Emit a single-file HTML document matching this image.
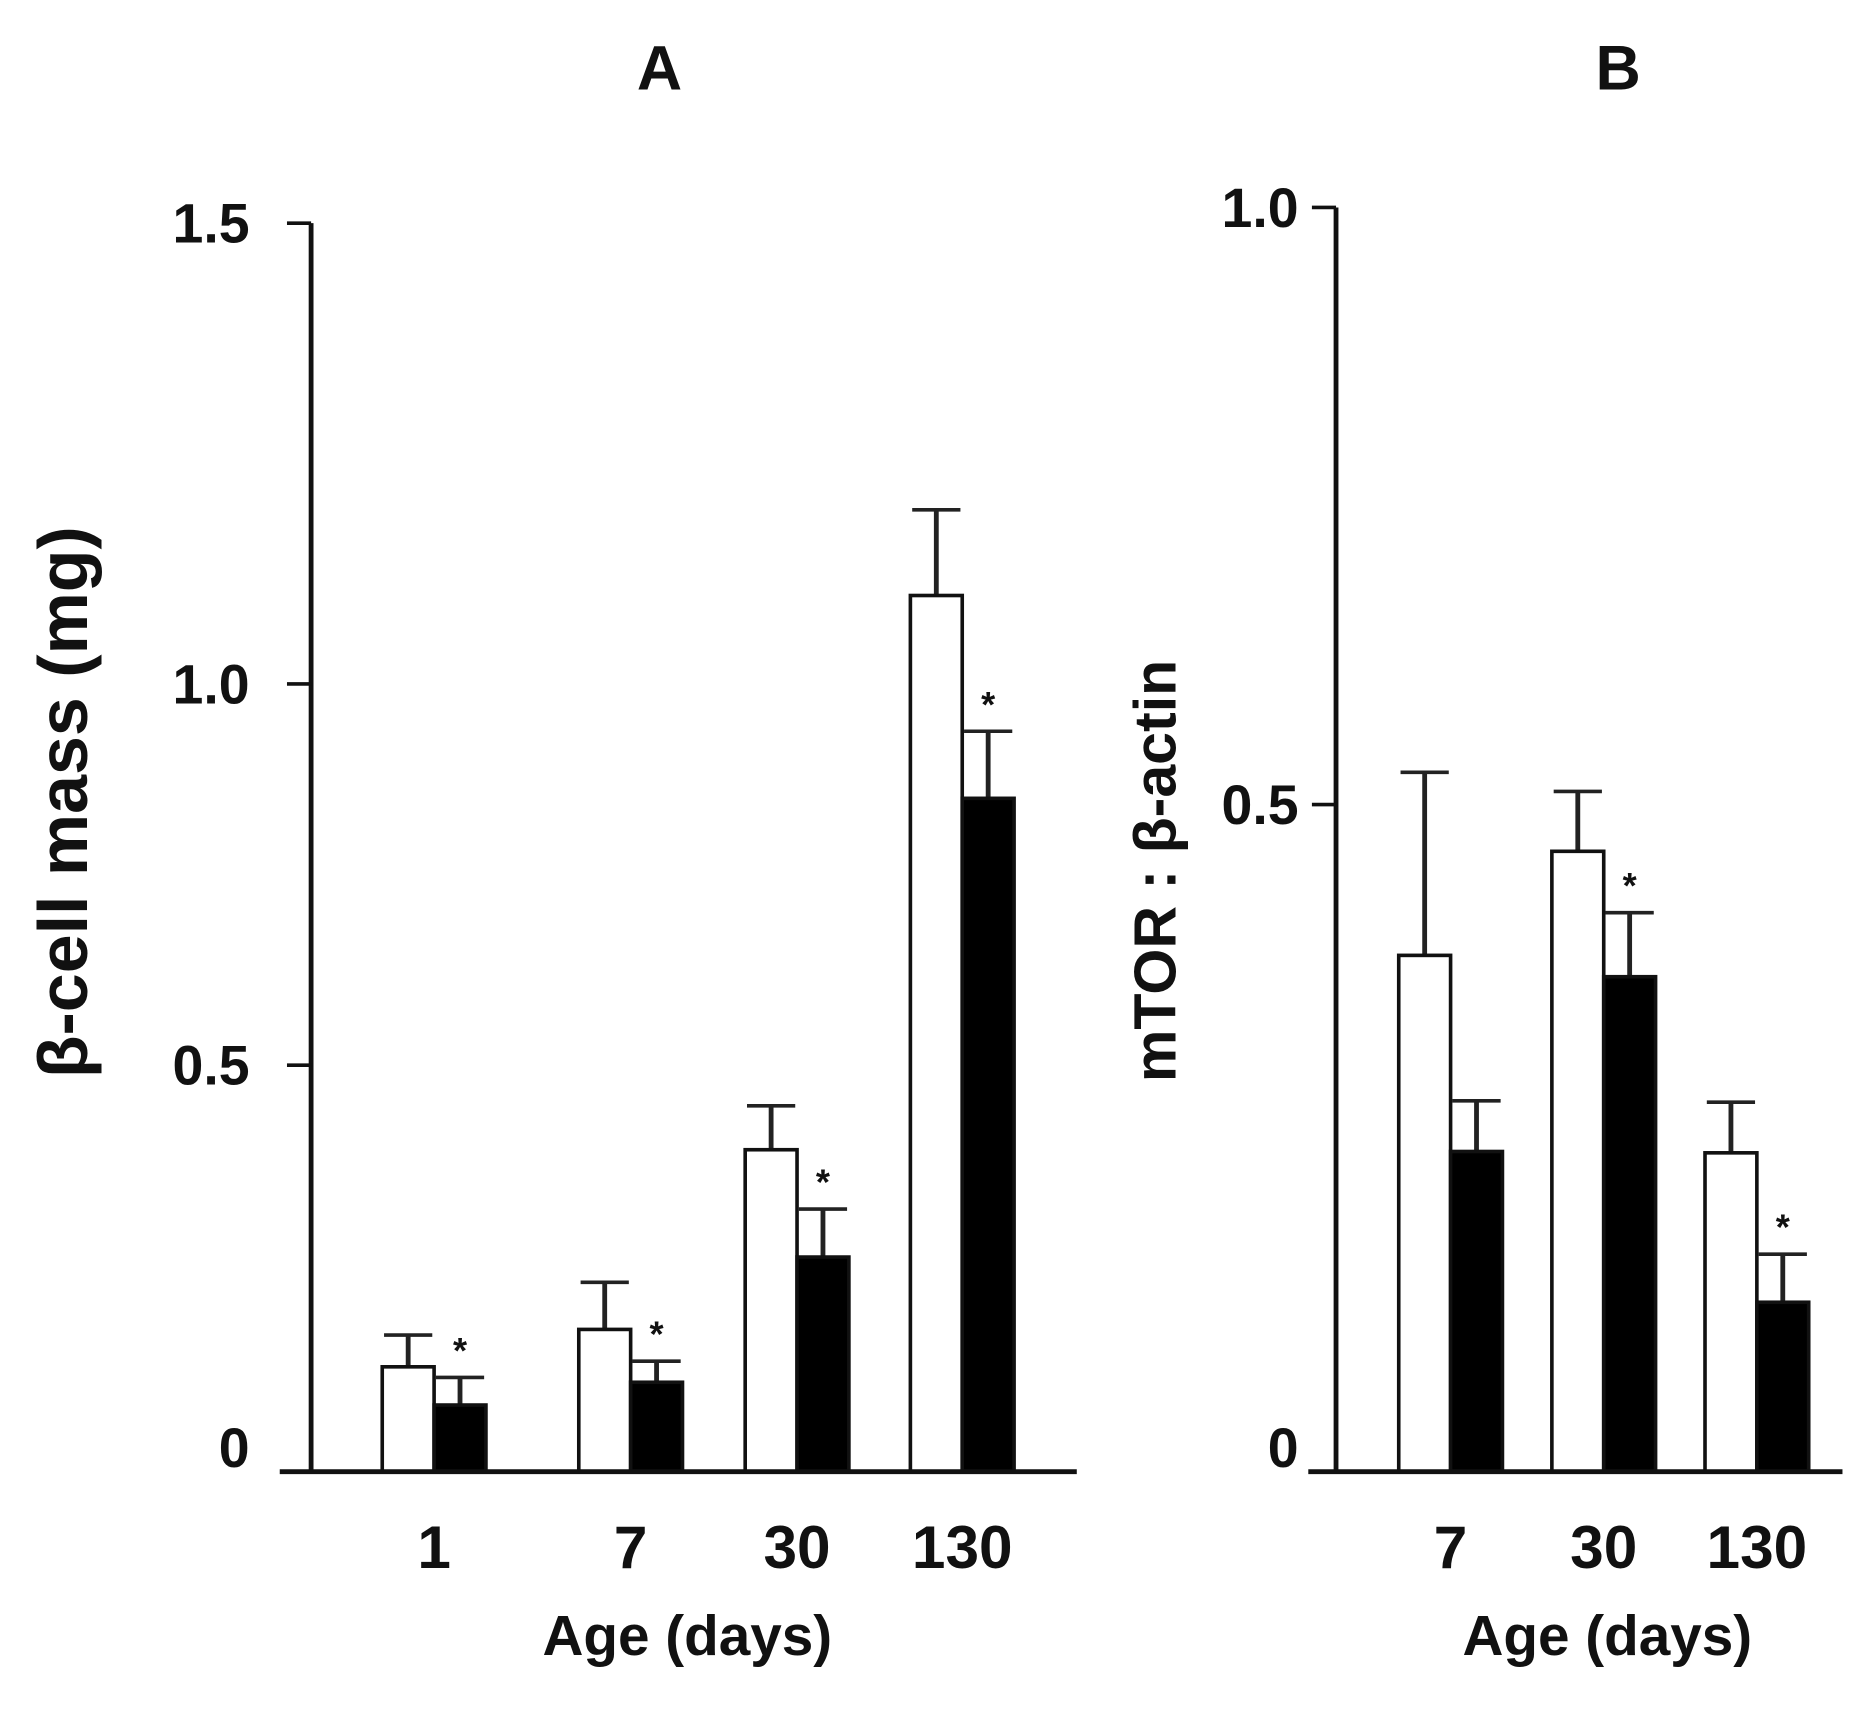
<!DOCTYPE html>
<html><head><meta charset="utf-8"><style>
html,body{margin:0;padding:0;background:#fff}
svg{display:block}
text{font-family:"Liberation Sans",Arial,sans-serif;font-weight:bold;fill:#111}
</style></head><body>
<svg id="chart" width="1869" height="1719" viewBox="0 0 1550 1425" preserveAspectRatio="none" xmlns="http://www.w3.org/2000/svg">
<text x="547" y="74" font-size="52" text-anchor="middle">A</text>
<text x="1342" y="74" font-size="52" text-anchor="middle">B</text>
<text transform="translate(72,665) rotate(-90)" font-size="58" text-anchor="middle">β-cell mass (mg)</text>
<text transform="translate(975,722) rotate(-90)" font-size="49" text-anchor="middle">mTOR : β-actin</text>
<text x="570" y="1372" font-size="47" text-anchor="middle">Age (days)</text>
<text x="1333" y="1372" font-size="47" text-anchor="middle">Age (days)</text>
<g id="plots"></g>
</svg>
<script>
// Panel A data
const catsA = ["1","7","30","130"];
const ctrlA = [0.129,0.175,0.396,1.096];
const ctrlErrA = [0.168,0.233,0.45,1.189];
const trtA = [0.082,0.11,0.264,0.85];
const trtErrA = [0.116,0.136,0.323,0.938];
const sigA = [true,true,true,true];
const ticksA = [0,0.5,1.0,1.5];
const tickLabelsA = ["0","0.5","1.0","1.5"];
// Panel B data
const catsB = ["7","30","130"];
const ctrlB = [0.387,0.465,0.239];
const ctrlErrB = [0.527,0.511,0.277];
const trtB = [0.24,0.371,0.127];
const trtErrB = [0.278,0.419,0.163];
const sigB = [false,true,true];
const ticksB = [0,0.5,1.0];
const tickLabelsB = ["0","0.5","1.0"];

const NS="http://www.w3.org/2000/svg";
const root=document.getElementById('plots');
function mk(tag,attrs,parent){const e=document.createElementNS(NS,tag);for(const k in attrs)e.setAttribute(k,attrs[k]);(parent||root).appendChild(e);return e;}

const layoutA={axisX:258,baseY:1220,xEnd:893,xStart:232,tickPx:[1220,883,567,185],groupX:[317,480,618,755],barW:43,labelX:207};
const layoutB={axisX:1108,baseY:1220,xEnd:1528,xStart:1085,tickPx:[1220,667,172],groupX:[1160,1287,1414],barW:43,labelX:1077};

function makeY(ticks,px){return v=>{for(let i=0;i<ticks.length-1;i++){if(v<=ticks[i+1]||i===ticks.length-2){const t=(v-ticks[i])/(ticks[i+1]-ticks[i]);return px[i]+t*(px[i+1]-px[i]);}}};}

function panel(id,L,cats,ctrl,ctrlErr,trt,trtErr,sig,ticks,tickLabels){
  const y=makeY(ticks,L.tickPx);
  const g=mk('g',{});
  
  
  const ya=mk('line',{x1:L.axisX,y1:y(ticks[ticks.length-1]),x2:L.axisX,y2:L.baseY,stroke:'#111','stroke-width':4},g);
  
  
  ticks.forEach((t,i)=>{
    const ty=y(t);
    if(i>0){const tk=mk('line',{x1:L.axisX-20,y1:ty,x2:L.axisX,y2:ty,stroke:'#111','stroke-width':3},g);
      
      }
    const lab=mk('text',{x:L.labelX,y:(i===0?ty-4:ty+16),'font-size':46,'text-anchor':'end'},g);
    lab.textContent=tickLabels[i];
    
    
  });
  cats.forEach((c,i)=>{
    const x0=L.groupX[i],w=L.barW;
    const items=[[ctrl[i],ctrlErr[i],'#fff',x0,'control'],[trt[i],trtErr[i],'#000',x0+w,'treated']];
    items.forEach(([v,e,fill,bx,nm])=>{
      const top=y(v),et=y(e),cx=bx+w/2;
      const el=mk('line',{x1:cx,y1:top,x2:cx,y2:et,stroke:'#222','stroke-width':4},g);
      
      
      const cap=mk('line',{x1:cx-20,y1:et,x2:cx+20,y2:et,stroke:'#222','stroke-width':3},g);
      
      
      const r=mk('rect',{x:bx,y:top,width:w,height:L.baseY-top,fill:fill,stroke:'#111','stroke-width':3},g);
      
      
    });
    if(sig[i]){
      const s=mk('text',{x:x0+w*1.5,y:y(trtErr[i])-12,'font-size':30,'text-anchor':'middle'},g);
      s.textContent='*';
      
      
    }
    const xl=mk('text',{x:x0+w,y:1300,'font-size':50,'text-anchor':'middle'},g);
    xl.textContent=c;
    
    
  });
  const xa=mk('line',{x1:L.xStart,y1:L.baseY,x2:L.xEnd,y2:L.baseY,stroke:'#111','stroke-width':4},g);
  
  
}
panel('a',layoutA,catsA,ctrlA,ctrlErrA,trtA,trtErrA,sigA,ticksA,tickLabelsA);
panel('b',layoutB,catsB,ctrlB,ctrlErrB,trtB,trtErrB,sigB,ticksB,tickLabelsB);
</script>
</body></html>
